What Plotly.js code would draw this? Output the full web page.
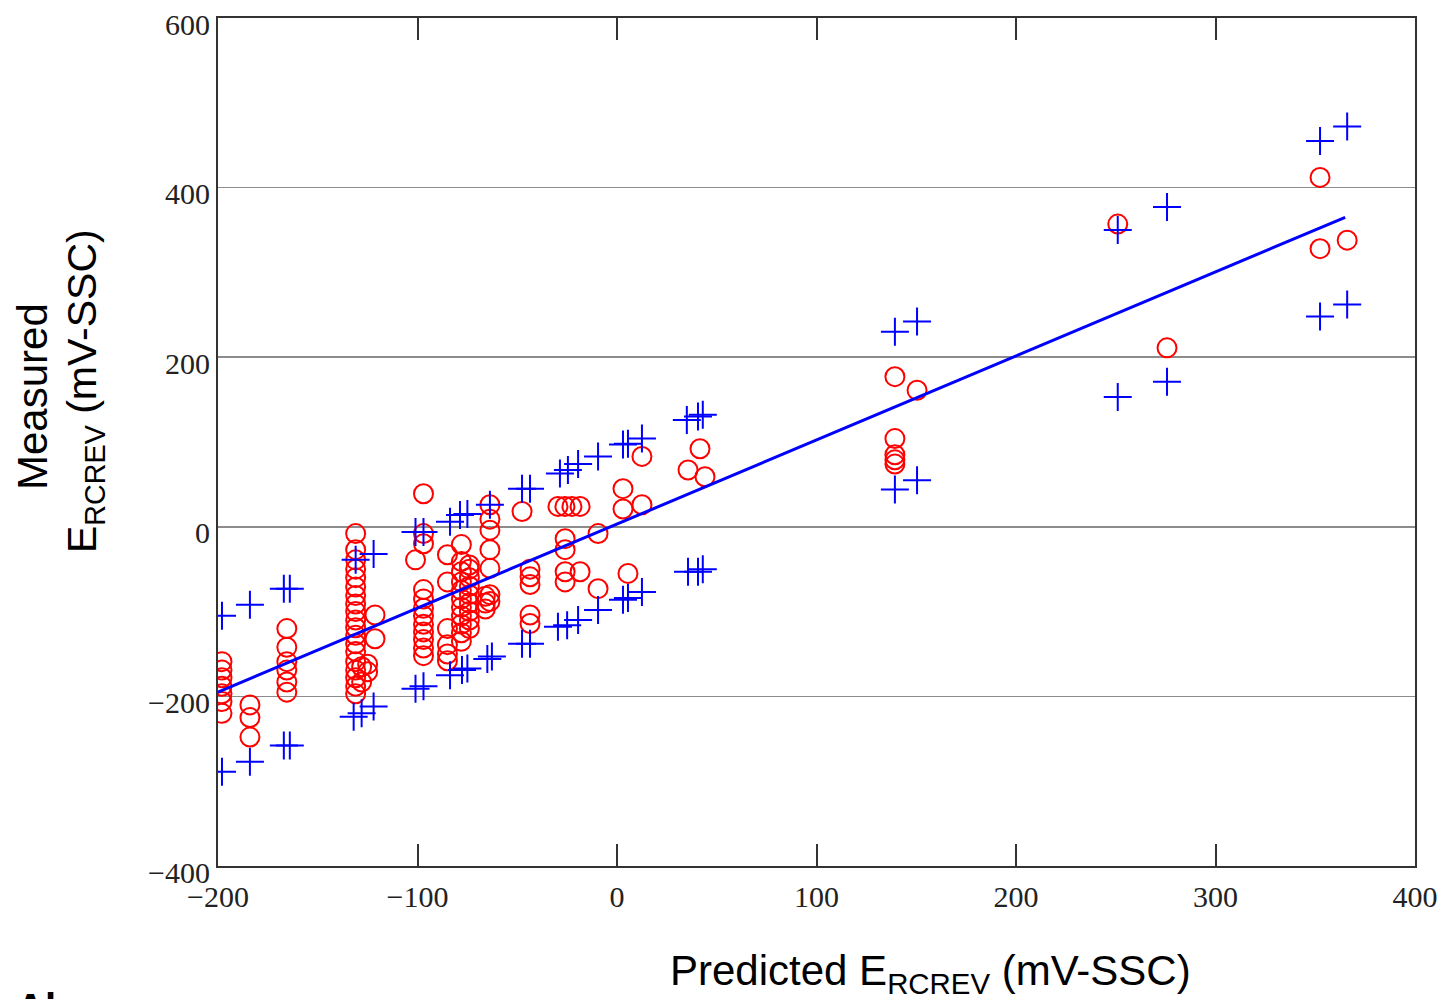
<!DOCTYPE html>
<html>
<head>
<meta charset="utf-8">
<script src="https://cdn.plot.ly/plotly-3.0.1.min.js"></script>
<style>html,body{margin:0;padding:0;background:#fff;}#chart{width:1448px;height:999px;}</style>
</head>
<body>
<div id="chart"></div>
<script>
// Measured values (red circles)
const circleX = [
  -198,-198,-198,-198,-198,-198,-198,
  -184,-184,-184,
  -165.5,-165.5,-165.5,-165.5,-165.5,-165.5,
  -131,-131,-131,-131,-131,-131,-131,-131,-131,-131,-131,-131,-131,-131,-131,-131,-131,-131,-131,
  -128,-128,-125,-125,-121.3,-121.3,
  -97,-97,-97,-101,-97,-97,-97,-97,-97,-97,-97,-97,-97,
  -85,-85,-85,-85,-85,-85,
  -78,-78,-78,-78,-78,-78,-78,-78,-78,-78,-78,
  -74,-74,-74,-74,-74,-74,-74,-74,-74,
  -63.7,-63.7,-63.7,-63.7,-63.7,-63.7,-63.7,
  -66,-66,-66,
  -43.6,-43.6,-43.6,-43.6,-43.6,-47.6,
  -29.6,-26.1,-22.6,-18.5,-26,-26,-26,-26,-18.5,
  -9.5,-9.5,
  3,3,12.5,12.5,5.5,
  35.6,41.6,44.1,
  139.3,139.3,139.3,139.3,139.3,150.4,
  251,275.7,352.4,352.4,366
];
const circleY = [
  -159,-169,-178,-188,-197,-206,-220,
  -210,-225,-248,
  -120,-142,-159,-169,-183,-195,
  -8,-27,-39,-50,-60,-71,-81,-91,-100,-110,-119,-128,-138,-147,-159,-169,-178,-188,-197,
  -165,-183,-162,-171,-104,-132,
  39,-8,-20,-39,-74,-85,-96,-105,-115,-124,-133,-143,-152,
  -33,-65,-120,-139,-150,-158,
  -21,-41,-53,-65,-75,-85,-95,-105,-115,-125,-135,
  -45,-50,-60,-70,-80,-90,-100,-110,-120,
  26,9,-4,-27,-49,-80,-88,
  -82,-90,-97,
  -50,-59,-68,-104,-114,18,
  24,24,24,24,-14,-27,-53,-65,-53,
  -8,-73,
  45,21,26,83,-55,
  67,92,59,
  177,104,85,79,74,161,
  357,211,412,328,338
];
// Prediction bounds (blue crosses)
const plusX = [
  -198,-198,
  -184,-184,
  -167,-164,-167,-164,
  -131,-122,-132,-128,-122,
  -101,-97,-101,-97,
  -83.7,-78.7,-75,-63.7,-83.7,-77.7,-75,-65,-62.7,
  -47.6,-43.6,-47.6,-43.6,
  -28.6,-24.6,-19.5,-29.6,-25,-19.5,
  -9.5,-9.5,
  3,5.5,12.5,3,5.5,12.5,
  35,40.6,43,35.6,40.6,43,
  139.3,150.4,139.3,150.4,
  251,251,
  275.7,275.7,
  352.4,352.4,
  366,366
];
const plusY = [
  -105,-289,
  -92,-277,
  -73,-73,-258,-258,
  -39,-32,-224,-220,-212,
  -6,-6,-191,-188,
  6,14,15,26,-175,-169,-167,-156,-153,
  45,45,-138,-138,
  63,67,74,-118,-116,-110,
  83,-98,
  97,98,104,-86,-84,-77,
  126,130,132,-53,-53,-50,
  230,242,44,55,
  350,153,
  377,171,
  455,248,
  472,262
];
// Fitted line
const lineX = [-200, 365];
const lineY = [-195, 365];

const xTicks = [-200, -100, 0, 100, 200, 300, 400];
const xTickText = ['\u2212200', '\u2212100', '0', '100', '200', '300', '400'];
const yTicks = [-400, -200, 0, 200, 400, 600];
const yTickText = ['\u2212400', '\u2212200', '0', '200', '400', '600'];

const traces = [
  {
    x: circleX, y: circleY, type: 'scatter', mode: 'markers',
    marker: {symbol: 'circle-open', size: 19, color: '#ff0000', line: {width: 2, color: '#ff0000'}},
    hoverinfo: 'x+y'
  },
  {
    x: plusX, y: plusY, type: 'scatter', mode: 'markers',
    marker: {symbol: 'cross-thin-open', size: 20, color: '#0000ff', line: {width: 2, color: '#0000ff'}},
    hoverinfo: 'x+y'
  },
  {
    x: lineX, y: lineY, type: 'scatter', mode: 'lines',
    line: {color: '#0000ff', width: 3},
    hoverinfo: 'skip'
  }
];

const px = v => (v - 218) / 1197;
const py = v => (866 - v) / 848;

const layout = {
  width: 1448, height: 999,
  margin: {l: 218, r: 33, t: 18, b: 133},
  paper_bgcolor: '#ffffff', plot_bgcolor: '#ffffff',
  showlegend: false,
  xaxis: {
    range: [-200, 400], tickvals: xTicks, ticktext: xTickText,
    ticks: 'inside', ticklen: 22, tickwidth: 2, tickcolor: '#333',
    showline: true, linecolor: '#333', linewidth: 2, mirror: 'ticks',
    showgrid: false, zeroline: false,
    tickfont: {family: 'Liberation Serif, Times New Roman, serif', size: 30, color: '#222'},
    ticklabelstandoff: 3, ticklabeloverflow: 'allow'
  },
  yaxis: {
    range: [-400, 600], tickvals: yTicks, ticktext: yTickText,
    ticks: '', showline: true, linecolor: '#333', linewidth: 2, mirror: true,
    showgrid: true, gridcolor: '#8c8c8c', gridwidth: 1.5, zeroline: false,
    tickfont: {family: 'Liberation Serif, Times New Roman, serif', size: 30, color: '#222'},
    ticklabelstandoff: 0, ticklabelshift: 6, ticklabeloverflow: 'allow'
  },
  annotations: [
    {
      text: 'Predicted E<sub>RCREV</sub> (mV-SSC)', xref: 'paper', yref: 'paper',
      x: px(930), y: py(974), xanchor: 'center', yanchor: 'middle', showarrow: false,
      font: {family: 'Liberation Sans, Arial, sans-serif', size: 42, color: '#000'}
    },
    {
      text: 'Measured', xref: 'paper', yref: 'paper', textangle: -90,
      x: px(32), y: py(397), xanchor: 'center', yanchor: 'middle', showarrow: false,
      font: {family: 'Liberation Sans, Arial, sans-serif', size: 42, color: '#000'}
    },
    {
      text: 'E<sub>RCREV</sub> (mV-SSC)', xref: 'paper', yref: 'paper', textangle: -90,
      x: px(85), y: py(391), xanchor: 'center', yanchor: 'middle', showarrow: false,
      font: {family: 'Liberation Sans, Arial, sans-serif', size: 41, color: '#000'}
    },
    {
      text: '<b>Al</b>', xref: 'paper', yref: 'paper',
      x: px(14), y: py(984), xanchor: 'left', yanchor: 'top', showarrow: false,
      font: {family: 'Liberation Sans, Arial, sans-serif', size: 40, color: '#000'}
    }
  ]
};

Plotly.newPlot('chart', traces, layout, {displayModeBar: false, staticPlot: true});
</script>
</body>
</html>
